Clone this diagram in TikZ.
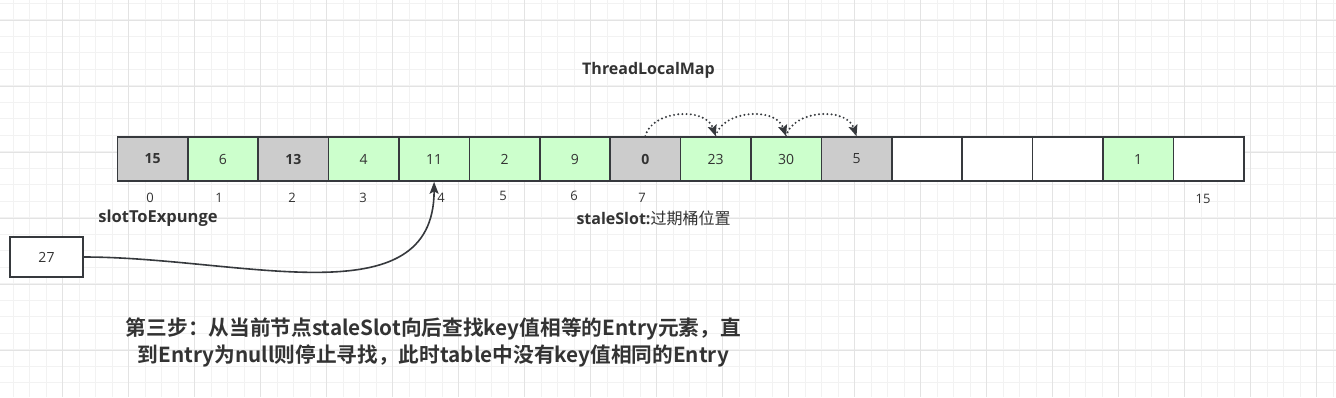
\documentclass[tikz,border=0pt]{standalone}
\usepackage{fontspec}
\setmainfont{Open Sans}
\newfontfamily\cjk{Noto Sans CJK SC}
\newfontfamily\cjkb{Noto Sans CJK SC Bold}
\usetikzlibrary{arrows.meta}
\definecolor{cgrey}{HTML}{CCCCCC}
\definecolor{cgreen}{HTML}{CCFFCC}
\definecolor{cstroke}{HTML}{36393D}
\definecolor{ctext}{HTML}{333333}
\definecolor{gminor}{HTML}{F2F2F2}
\definecolor{gmajor}{HTML}{E3E3E3}
\tikzset{
  gridminor/.style={draw=gminor, line width=1bp},
  gridmajor/.style={draw=gmajor, line width=1bp},
  cell/.style={draw=cstroke, line width=1.6bp, minimum width=70.4bp, minimum height=44bp, inner sep=0, font=\fontsize{14bp}{16bp}\selectfont, text=ctext},
  greycell/.style={cell, fill=cgrey},
  greencell/.style={cell, fill=cgreen},
  emptycell/.style={cell, fill=white},
  idx/.style={inner sep=0, font=\fontsize{13bp}{15bp}\selectfont, text=ctext},
  lbl/.style={inner sep=0, font=\fontsize{16bp}{18bp}\selectfont\bfseries, text=ctext},
  conn/.style={draw=cstroke, line width=1.6bp, -{Stealth[length=12bp,width=9bp,inset=2.5bp]}},
  dotarr/.style={draw=cstroke, line width=2.2bp, dash pattern=on 0bp off 4.2bp, line cap=round, -{Stealth[length=11bp,width=9bp,inset=2bp]}}
}
\begin{document}
\begin{tikzpicture}[x=1bp,y=-1bp]
\useasboundingbox (0,0) rectangle (1336,397);
\fill[white] (0,0) rectangle (1336,397);
\foreach \i in {0,...,80} {\draw[gridminor] ({13.3+16.5*\i},0) -- ({13.3+16.5*\i},397);}
\foreach \j in {0,...,23} {\draw[gridminor] (0,{3.3+16.5*\j}) -- (1336,{3.3+16.5*\j});}
\foreach \i in {0,...,19} {\draw[gridmajor] ({62.8+66*\i},0) -- ({62.8+66*\i},397);}
\foreach \j in {0,...,5} {\draw[gridmajor] (0,{20.3+66*\j}) -- (1336,{20.3+66*\j});}

\node[lbl] (title) at (648.5,70) {ThreadLocalMap};

\node[greycell]  (c0)  at (152.5,159) {\bfseries 15};
\node[greencell] (c1)  at (222.9,159) {6};
\node[greycell]  (c2)  at (293.3,159) {\bfseries 13};
\node[greencell] (c3)  at (363.7,159) {4};
\node[greencell] (c4)  at (434.1,159) {11};
\node[greencell] (c5)  at (504.5,159) {2};
\node[greencell] (c6)  at (574.9,159) {9};
\node[greycell]  (c7)  at (645.3,159) {\bfseries 0};
\node[greencell] (c8)  at (715.7,159) {23};
\node[greencell] (c9)  at (786.1,159) {30};
\node[greycell]  (c10) at (856.5,159) {5};
\node[emptycell] (c11) at (926.9,159) {};
\node[emptycell] (c12) at (997.3,159) {};
\node[emptycell] (c13) at (1067.7,159) {};
\node[greencell] (c14) at (1138.1,159) {1};
\node[emptycell] (c15) at (1208.5,159) {};

\node[idx] (i0) at (150,198) {0};
\node[idx] (i1) at (219,198) {1};
\node[idx] (i2) at (292,198) {2};
\node[idx] (i3) at (363,198) {3};
\node[idx] (i4) at (441,198) {4};
\node[idx] (i5) at (503,196) {5};
\node[idx] (i6) at (574,196) {6};
\node[idx] (i7) at (642,198) {7};
\node[idx] (i15) at (1203,199) {15};

\node[lbl, font=\fontsize{16.5bp}{18bp}\selectfont\bfseries] (ste) at (158,218) {slotToExpunge};
\node[lbl] (stale) at (653.5,218) {staleSlot:{\cjk\mdseries 过期桶位置}};

\node[cell, fill=white, minimum width=73bp, minimum height=40bp] (b27) at (46.5,257) {27};

\draw[conn] (b27.east) .. controls (240,257) and (434,320) .. (c4.south);

\draw[dotarr] (c7.north) .. controls +(6,-26) and +(-10,-30) .. (c8.north);
\draw[dotarr] (c8.north) .. controls +(6,-26) and +(-10,-30) .. (c9.north);
\draw[dotarr] (c9.north) .. controls +(6,-26) and +(-10,-30) .. (c10.north);

\node[inner sep=0, align=center, text=ctext, font=\cjkb\fontsize{20.7bp}{27bp}\selectfont] (step3) at (433.5,342.5) {第三步：从当前节点staleSlot向后查找key值相等的Entry元素，直\\到Entry为null则停止寻找，此时table中没有key值相同的Entry};
\end{tikzpicture}
\end{document}
